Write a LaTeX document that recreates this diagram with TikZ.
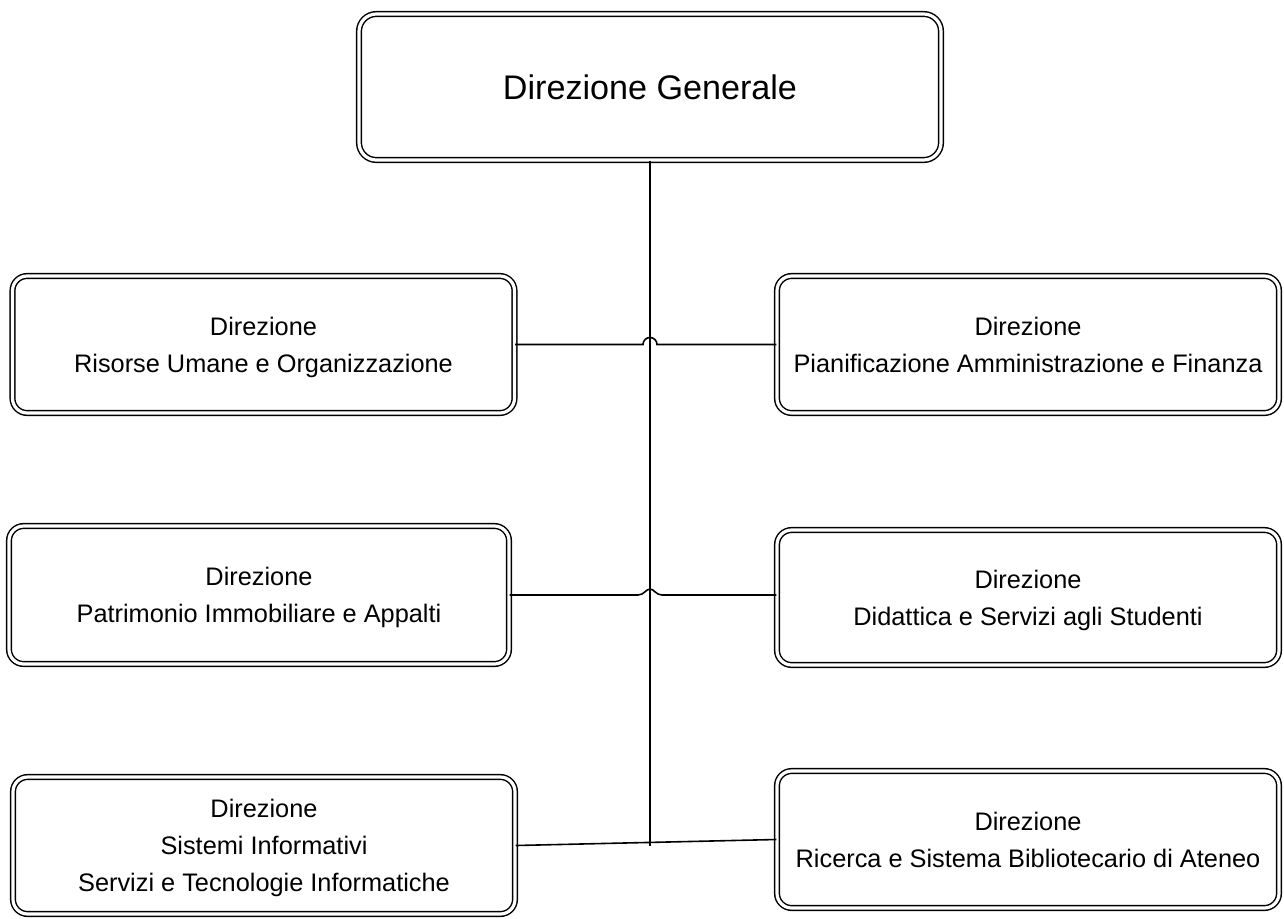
\documentclass[tikz,border=0pt]{standalone}
\usepackage{fontspec}
\setmainfont{Liberation Sans}
\begin{document}
\begin{tikzpicture}[x=0.75pt,y=-0.75pt,
  unit/.style={draw=black, line width=1.1pt, double=white, double distance=2.4pt,
    rounded corners=11pt, align=center, inner sep=0pt,
    font=\fontsize{19}{27.75}\selectfont, text depth=-2pt,
    minimum width=376.5pt, minimum height=102.75pt},
  head/.style={unit, rounded corners=13pt, font=\fontsize{25.6}{30}\selectfont,
    text depth=0pt, minimum width=436.5pt, minimum height=109.5pt},
  link/.style={line width=1.2pt}]
\useasboundingbox (0,0) rectangle (1284,918);

% boxes
\node[head] (top) at (650,87) {Direzione Generale};
\node[unit] (l1) at (263.5,344.5) {Direzione\\Risorse Umane e Organizzazione};
\node[unit] (r1) at (1028,344.5) {Direzione\\Pianificazione Amministrazione e Finanza};
\node[unit, minimum width=375pt, minimum height=103.5pt] (l2) at (259,595) {Direzione\\Patrimonio Immobiliare e Appalti};
\node[unit, minimum height=101.25pt] (r2) at (1028,597.5) {Direzione\\Didattica e Servizi agli Studenti};
\node[unit] (l3) at (264,845.5) {Direzione\\Sistemi Informativi\\Servizi e Tecnologie Informatiche};
\node[unit] (r3) at (1028,839.5) {Direzione\\Ricerca e Sistema Bibliotecario di Ateneo};

% crossing points on the trunk
\coordinate (h1) at (top.south |- l1.east);
\coordinate (h2) at (top.south |- l2.east);

% trunk
\draw[link] (top.south) -- (top.south |- l3.east);

% first row, semicircular hop over the trunk
\draw[link] (l1.east) -- ([xshift=-5.25pt]h1)
  arc[start angle=180, end angle=0, radius=5.25pt] -- (r1.west);

% second row, smooth hop over the trunk
\draw[link] (l2.east) -- ([xshift=-9pt]h2)
  .. controls ([xshift=-4.5pt]h2) and ([xshift=-3pt,yshift=4.5pt]h2) .. ([yshift=4.5pt]h2)
  .. controls ([xshift=3pt,yshift=4.5pt]h2) and ([xshift=4.5pt]h2) .. ([xshift=9pt]h2)
  -- (r2.west |- h2);

% third row
\draw[link] (l3.east) -- (r3.west);
\end{tikzpicture}
\end{document}
